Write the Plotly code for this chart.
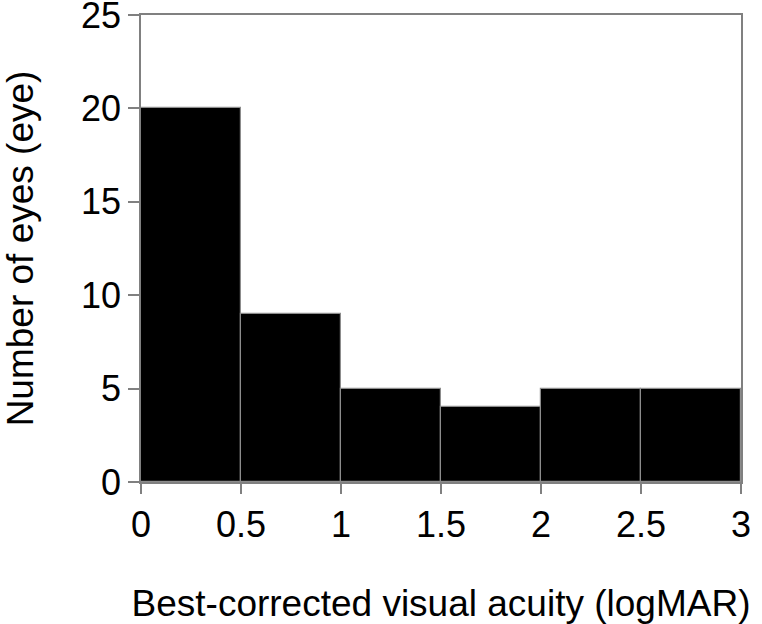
import plotly.graph_objects as go

bin_centers = [0.25, 0.75, 1.25, 1.75, 2.25, 2.75]
counts = [20, 9, 5, 4, 5, 5]
x_ticks = [0, 0.5, 1, 1.5, 2, 2.5, 3]
x_tick_labels = ["0", "0.5", "1", "1.5", "2", "2.5", "3"]
y_ticks = [0, 5, 10, 15, 20, 25]

fig = go.Figure(go.Bar(
    x=bin_centers, y=counts, width=0.5,
    marker=dict(color="black", line=dict(color="#8c8c8c", width=1.2)),
))

font = "Liberation Sans, Arial, sans-serif"
fig.update_layout(
    width=762, height=624,
    margin=dict(l=141, r=21, t=15, b=142),
    plot_bgcolor="white", paper_bgcolor="white",
    showlegend=False,
    font=dict(family=font, color="black", size=36),
    bargap=0,
)
fig.update_xaxes(
    range=[0, 3], tickvals=x_ticks, ticktext=x_tick_labels,
    showline=True, mirror=True, linecolor="#808080", linewidth=1.5,
    ticks="outside", ticklen=10, tickcolor="#808080", tickwidth=1.5,
    showgrid=False, zeroline=False, automargin=False,
    ticklabeloverflow="allow",
    tickfont=dict(size=36),
    title=dict(text="Best-corrected visual acuity (logMAR)", font=dict(size=37), standoff=46),
)
fig.update_yaxes(
    range=[0, 25], tickvals=y_ticks,
    showline=True, mirror=True, linecolor="#808080", linewidth=1.5,
    ticks="outside", ticklen=11, tickcolor="#808080", tickwidth=1.5,
    showgrid=False, zeroline=False, automargin=False,
    ticklabeloverflow="allow",
    tickfont=dict(size=36),
    title=dict(text="Number of eyes (eye)", font=dict(size=37), standoff=36),
)
fig.write_html("out.html")
